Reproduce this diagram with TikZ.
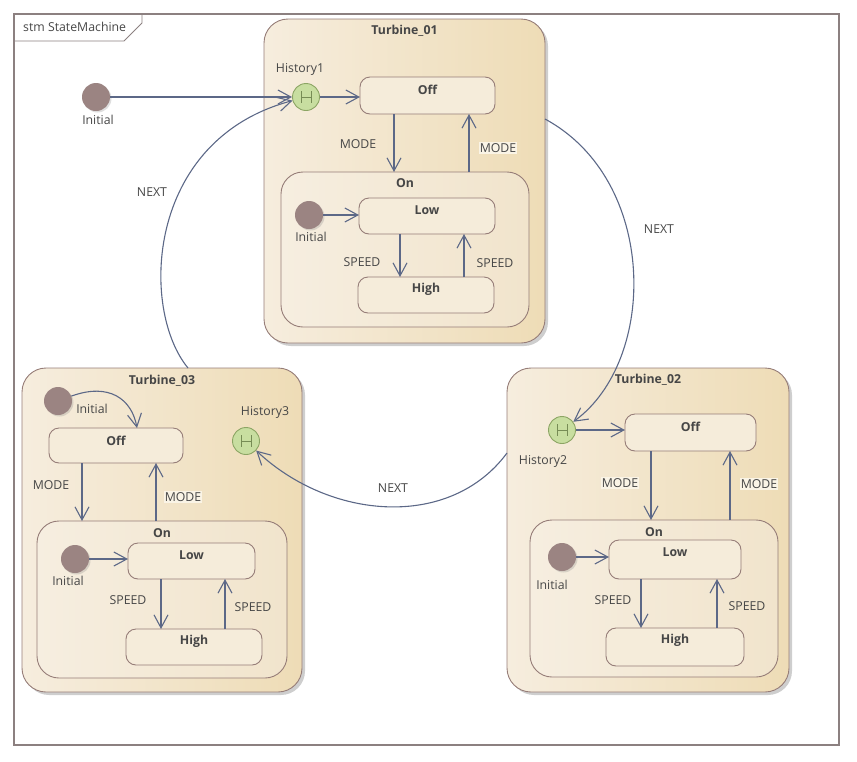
\documentclass[tikz,border=0pt]{standalone}
\usepackage{fontspec}
\setmainfont{Open Sans}
\usetikzlibrary{arrows.meta,shadows,calc}
\definecolor{linec}{RGB}{92,104,135}
\definecolor{bordc}{RGB}{150,125,120}
\definecolor{tl}{RGB}{246,237,222}
\definecolor{tr}{RGB}{238,220,182}
\definecolor{ol}{RGB}{246,238,224}
\definecolor{or}{RGB}{241,228,204}
\definecolor{sfill}{RGB}{245,236,218}
\definecolor{initc}{RGB}{155,132,130}
\definecolor{histf}{RGB}{200,222,160}
\definecolor{histd}{RGB}{140,165,100}
\definecolor{txtc}{RGB}{70,70,70}
\definecolor{framec}{RGB}{140,128,128}
\definecolor{lblbg}{RGB}{250,244,230}
\begin{document}
\begin{tikzpicture}[x=1pt,y=-1pt,font=\fontsize{12.3}{14}\selectfont,
  box/.style={anchor=north west,inner sep=0pt,outer sep=0pt,draw=bordc,line width=0.9pt},
  turb/.style={box,rounded corners=24pt,left color=tl,right color=tr,
    drop shadow={shadow xshift=3pt,shadow yshift=-3pt,opacity=0.35,fill=black!55}},
  onbox/.style={box,rounded corners=22pt,left color=ol,right color=or},
  stbox/.style={box,rounded corners=10pt,fill=sfill},
  ttl/.style={font=\fontsize{12.3}{14}\selectfont\bfseries,text=txtc,inner sep=0pt},
  lbl/.style={text=txtc,inner sep=1pt},
  lblb/.style={lbl,fill=lblbg},
  init/.style={circle,fill=initc,minimum size=28pt,inner sep=0pt,
    drop shadow={shadow xshift=1.5pt,shadow yshift=-1.5pt,opacity=0.25,fill=black!50}},
  hist/.style={circle,fill=histf,draw=histd,line width=0.9pt,minimum size=27pt,inner sep=0pt,
    path picture={\draw[histd!85!black,line width=0.7pt]
      ($(path picture bounding box.center)+(-5,-6)$) -- ++(0,12)
      ($(path picture bounding box.center)+(5,-6)$) -- ++(0,12)
      ($(path picture bounding box.center)+(-5,0)$) -- ++(10,0);}},
  arr/.style={draw=linec,line width=1.1pt,-{Straight Barb[length=13pt,width=14pt]}}]
\path[use as bounding box] (0,0) rectangle (857,761);
% frame
\draw[framec,line width=1.6pt] (14,14) rectangle (839,745);
\draw[framec,line width=0.9pt] (14,14) -- (142,14) -- (142,23) -- (124,41) -- (14,41);
\node[lbl,anchor=west] (fr) at (22,27) {stm StateMachine};

% Turbine boxes
\node[turb,minimum width=281pt,minimum height=324pt] (t1) at (264,19) {};
\node[turb,minimum width=280pt,minimum height=324pt] (t3) at (22,368) {};
\node[turb,minimum width=282pt,minimum height=324pt] (t2) at (507,368) {};
\node[ttl] (t1t) at ($(t1.north)+(0,12)$) {Turbine\_01};
\node[ttl] (t3t) at ($(t3.north)+(0,13)$) {Turbine\_03};
\node[ttl] (t2t) at ($(t2.north)+(0,12)$) {Turbine\_02};

% On boxes
\node[onbox,minimum width=248pt,minimum height=155pt] (on1) at (281,172) {};
\node[onbox,minimum width=250pt,minimum height=157pt] (on3) at (37,521) {};
\node[onbox,minimum width=248pt,minimum height=157pt] (on2) at (530,520) {};
\node[ttl] (on1t) at ($(on1.north)+(0,11)$) {On};
\node[ttl] (on3t) at ($(on3.north)+(0,12)$) {On};
\node[ttl] (on2t) at ($(on2.north)+(0,12)$) {On};

% simple states
\node[stbox,minimum width=135pt,minimum height=37pt] (off1) at (360,77) {};
\node[stbox,minimum width=136pt,minimum height=36pt] (low1) at (359,198) {};
\node[stbox,minimum width=136pt,minimum height=36pt] (high1) at (358,277) {};
\node[stbox,minimum width=134pt,minimum height=35pt] (off3) at (49,428) {};
\node[stbox,minimum width=127pt,minimum height=36pt] (low3) at (128,543) {};
\node[stbox,minimum width=136pt,minimum height=36pt] (high3) at (126,629) {};
\node[stbox,minimum width=131pt,minimum height=37pt] (off2) at (625,414) {};
\node[stbox,minimum width=132pt,minimum height=39pt] (low2) at (609,540) {};
\node[stbox,minimum width=138pt,minimum height=38pt] (high2) at (606,628) {};
\foreach \n/\t in {off1/Off,low1/Low,high1/High,off3/Off,low3/Low,high3/High,off2/Off,low2/Low,high2/High}
  \node[ttl] (\n t) at ($(\n.north)+(0,12.5)$) {\t};

% pseudo states
\node[init] (i0) at (96,97) {};
\node[init] (ii1) at (309,215) {};
\node[init] (i3) at (58,401) {};
\node[init] (ii3) at (75,559) {};
\node[init] (ii2) at (562,557) {};
\node[hist] (h1) at (306,97) {};
\node[hist] (h2) at (562,430) {};
\node[hist] (h3) at (246,441) {};

\node[lbl] (i0l) at (98,120) {Initial};
\node[lbl] (ii1l) at (311,237) {Initial};
\node[lbl] (i3l) at (92,409) {Initial};
\node[lbl] (ii3l) at (68,581) {Initial};
\node[lbl] (ii2l) at (552,585) {Initial};
\node[lbl] (h1l) at (300,69) {History1};
\node[lbl] (h2l) at (543,461) {History2};
\node[lbl] (h3l) at (265,412) {History3};

% transitions Turbine_01
\draw[arr] (i0) -- (h1);
\draw[arr] (h1) -- (off1.west |- h1);
\draw[arr] (394,0 |- off1.south) -- (394,0 |- on1.north);
\draw[arr] (469,0 |- on1.north) -- (469,0 |- off1.south);
\draw[arr] (ii1) -- (low1.west |- ii1);
\draw[arr] (400,0 |- low1.south) -- (400,0 |- high1.north);
\draw[arr] (464,0 |- high1.north) -- (464,0 |- low1.south);
\node[lbl] (m1a) at (358,144) {MODE};
\node[lblb] (m1b) at (498,148) {MODE};
\node[lbl] (s1a) at (362,262) {SPEED};
\node[lbl] (s1b) at (495,263) {SPEED};

% transitions Turbine_03
\draw[arr] (i3) .. controls (110,382) and (132,400) .. ($(off3.north west)+(88,0)$);
\draw[arr] (82,0 |- off3.south) -- (82,0 |- on3.north);
\draw[arr] (156,0 |- on3.north) -- (156,0 |- off3.south);
\draw[arr] (ii3) -- (low3.west |- ii3);
\draw[arr] (161,0 |- low3.south) -- (161,0 |- high3.north);
\draw[arr] (225,0 |- high3.north) -- (225,0 |- low3.south);
\node[lbl] (m3a) at (51,485) {MODE};
\node[lblb] (m3b) at (183,497) {MODE};
\node[lbl] (s3a) at (128,600) {SPEED};
\node[lbl] (s3b) at (253,607) {SPEED};

% transitions Turbine_02
\draw[arr] (h2) -- (off2.west |- h2);
\draw[arr] (651,0 |- off2.south) -- (651,0 |- on2.north);
\draw[arr] (730,0 |- on2.north) -- (730,0 |- off2.south);
\draw[arr] (ii2) -- (low2.west |- ii2);
\draw[arr] (641,0 |- low2.south) -- (641,0 |- high2.north);
\draw[arr] (717,0 |- high2.north) -- (717,0 |- low2.south);
\node[lblb] (m2a) at (620,483) {MODE};
\node[lblb] (m2b) at (759,484) {MODE};
\node[lbl] (s2a) at (613,600) {SPEED};
\node[lbl] (s2b) at (747,606) {SPEED};

% NEXT transitions
\draw[arr] ($(t1.north east)+(0,100)$) .. controls (658,180) and (658,360) .. (h2);
\draw[arr] ($(t2.north west)+(0,85)$) .. controls (450,530) and (330,520) .. (h3);
\draw[arr] ($(t3.north west)+(166,0)$) .. controls (140,310) and (145,140) .. (h1);
\node[lbl] (n1) at (659,229) {NEXT};
\node[lbl] (n2) at (393,488) {NEXT};
\node[lbl] (n3) at (152,192) {NEXT};
\end{tikzpicture}
\end{document}
